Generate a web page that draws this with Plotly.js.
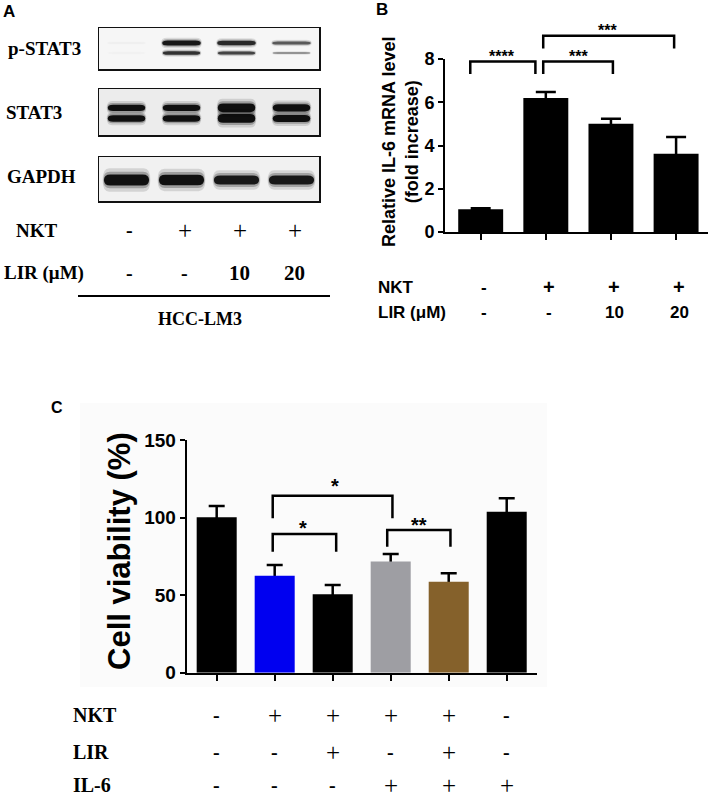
<!DOCTYPE html>
<html>
<head>
<meta charset="utf-8">
<script src="https://cdn.plot.ly/plotly-3.0.1.min.js"></script>
<style>
  body { margin: 0; background: white; }
  #fig { width: 711px; height: 798px; }
</style>
</head>
<body>
<div id="fig"></div>
<script>
// ---- panel A: western blot, band intensity per lane (HCC-LM3)
var lanes = [1, 2, 3, 4];
var pStat3Upper = [0.02, 0.95, 0.85, 0.6];
var pStat3Lower = [0.015, 0.8, 0.7, 0.35];
var stat3Upper = [1.0, 1.0, 1.35, 1.1];
var stat3Lower = [1.0, 1.0, 1.35, 1.1];
var gapdh = [1.15, 1.1, 0.95, 0.95];
var aNkt = ['-', '+', '+', '+'];
var aLir = ['-', '-', '10', '20'];

// ---- panel B: relative IL-6 mRNA level
var bGroups = [0, 1, 2, 3];
var bNames = ['Control', 'NKT', 'NKT + LIR 10', 'NKT + LIR 20'];
var il6Fold = [1.05, 6.2, 5.0, 3.62];
var il6Err = [0.05, 0.27, 0.24, 0.77];
var bNkt = ['-', '+', '+', '+'];
var bLir = ['-', '-', '10', '20'];

// ---- panel C: cell viability
var cGroups = [0, 1, 2, 3, 4, 5];
var viability = [100.2, 62.5, 50.5, 71.6, 58.7, 103.8];
var viabilityErr = [7.3, 6.9, 6.0, 4.9, 5.4, 8.6];
var cColors = ['#000000', '#0000f0', '#000000', '#9e9ea3', '#85612b', '#000000'];
var cNkt = ['-', '+', '+', '+', '+', '-'];
var cLir = ['-', '-', '+', '-', '+', '-'];
var cIl6 = ['-', '-', '-', '+', '+', '+'];

// pixel -> paper helpers
var W = 711, H = 798;
function px(x) { return x / W; }
function py(y) { return 1 - y / H; }

var arial = 'Arial, Liberation Sans, sans-serif';
var times = 'Times New Roman, Liberation Serif, serif';

var blotAxis = {
  domain: [px(99), px(319)], range: [0.5, 4.5],
  showline: true, mirror: true, linecolor: '#111', linewidth: 1.5,
  showticklabels: false, ticks: '', showgrid: false, zeroline: false, fixedrange: true
};
function blotY(top, bottom) {
  return {
    domain: [py(bottom), py(top)], range: [0, 1],
    showline: true, mirror: true, linecolor: '#111', linewidth: 1.5,
    showticklabels: false, ticks: '', showgrid: false, zeroline: false, fixedrange: true
  };
}

var layout = {
  width: W, height: H,
  margin: {l: 0, r: 0, t: 0, b: 0},
  paper_bgcolor: 'white',
  plot_bgcolor: 'rgba(0,0,0,0)',
  showlegend: false,
  barmode: 'overlay',
  font: {family: arial, color: 'black'},
  xaxis: {
    domain: [px(445), px(708)], range: [-0.548, 3.49],
    showline: true, linecolor: 'black', linewidth: 2,
    ticks: 'outside', ticklen: 6, tickwidth: 2, tickcolor: 'black',
    tickvals: bGroups, showticklabels: false,
    showgrid: false, zeroline: false, anchor: 'y'
  },
  yaxis: {
    domain: [py(232), py(59)], range: [0, 8],
    showline: true, linecolor: 'black', linewidth: 2,
    ticks: 'outside', ticklen: 5, tickwidth: 2, tickcolor: 'black',
    tickvals: [0, 2, 4, 6, 8],
    tickfont: {family: arial, size: 18, color: 'black', weight: 'bold'},
    showgrid: false, zeroline: false, anchor: 'x'
  },
  xaxis2: {
    domain: [px(186.7), px(536.7)], range: [-0.517, 5.517],
    showline: true, linecolor: 'black', linewidth: 2,
    ticks: 'outside', ticklen: 6, tickwidth: 2, tickcolor: 'black',
    tickvals: cGroups, showticklabels: false,
    showgrid: false, zeroline: false, anchor: 'y2'
  },
  yaxis2: {
    domain: [py(672.7), py(440)], range: [0, 150],
    showline: true, linecolor: 'black', linewidth: 2,
    ticks: 'outside', ticklen: 5, tickwidth: 2, tickcolor: 'black',
    tickvals: [0, 50, 100, 150],
    tickfont: {family: arial, size: 19, color: 'black', weight: 'bold'},
    showgrid: false, zeroline: false, anchor: 'x2'
  },
  xaxis3: Object.assign({}, blotAxis, {anchor: 'y3'}),
  xaxis4: Object.assign({}, blotAxis, {anchor: 'y4'}),
  xaxis5: Object.assign({}, blotAxis, {anchor: 'y5'}),
  yaxis3: Object.assign(blotY(28, 69), {anchor: 'x3'}),
  yaxis4: Object.assign(blotY(89, 135), {anchor: 'x4'}),
  yaxis5: Object.assign(blotY(157, 201), {anchor: 'x5'}),
  shapes: [],
  annotations: []
};

// value on an axis -> paper y
function toPaper(ax, v) {
  var d = ax.domain, r = ax.range;
  return d[0] + (v - r[0]) / (r[1] - r[0]) * (d[1] - d[0]);
}

function text(x, y, t, size, opts) {
  var a = {
    x: x, y: y, xref: 'paper', yref: 'paper', text: t, showarrow: false,
    font: {family: arial, size: size, color: 'black'},
    xanchor: 'center', yanchor: 'middle', borderpad: 0
  };
  return Object.assign(a, opts || {});
}

// light panel C background
layout.shapes.push({type: 'rect', xref: 'paper', yref: 'paper', layer: 'below',
  x0: px(80), x1: px(547), y0: py(687), y1: py(403),
  fillcolor: '#fbfbfb', line: {width: 0}});

// ---- blot panels
var blots = [
  {ax: 'x3', ay: 'y3', bg: '#f6f6f6', rows: [
    {vals: pStat3Upper, yc: 0.634, h: 0.13, w: 0.7},
    {vals: pStat3Lower, yc: 0.39, h: 0.11, w: 0.68}]},
  {ax: 'x4', ay: 'y4', bg: '#ececec', rows: [
    {vals: stat3Upper, yc: 0.59, h: 0.14, w: 0.68},
    {vals: stat3Lower, yc: 0.36, h: 0.14, w: 0.68}]},
  {ax: 'x5', ay: 'y5', bg: '#f1f1f1', rows: [
    {vals: gapdh, yc: 0.477, h: 0.22, w: 0.82}]}
];

function bandPath(x, yc, w, h) {
  var x0 = x - w / 2, x1 = x + w / 2, y0 = yc - h / 2, y1 = yc + h / 2, r = w * 0.14;
  return 'M' + (x0 + r) + ',' + y0 + ' L' + (x1 - r) + ',' + y0 +
    ' Q' + x1 + ',' + y0 + ' ' + x1 + ',' + yc +
    ' Q' + x1 + ',' + y1 + ' ' + (x1 - r) + ',' + y1 +
    ' L' + (x0 + r) + ',' + y1 +
    ' Q' + x0 + ',' + y1 + ' ' + x0 + ',' + yc +
    ' Q' + x0 + ',' + y0 + ' ' + (x0 + r) + ',' + y0 + ' Z';
}

// soft halo layers then the dense core, to mimic a film band
var bandLayers = [
  {sw: 1.06, sh: 2.1, a: 0.12},
  {sw: 1.03, sh: 1.5, a: 0.25},
  {sw: 1.0, sh: 1.0, a: 0.9}
];
blots.forEach(function(b) {
  layout.shapes.push({type: 'rect', xref: b.ax + ' domain', yref: b.ay + ' domain',
    x0: 0, x1: 1, y0: 0, y1: 1, layer: 'below', fillcolor: b.bg, line: {width: 0}});
  b.rows.forEach(function(row) {
    lanes.forEach(function(lane, i) {
      var v = row.vals[i];
      var op = Math.min(1, v);
      var h = row.h * Math.max(0.4, v);
      bandLayers.forEach(function(l) {
        layout.shapes.push({type: 'path', xref: b.ax, yref: b.ay,
          path: bandPath(lane, row.yc, row.w * l.sw, h * l.sh),
          fillcolor: 'rgba(0,0,0,' + (op * l.a).toFixed(3) + ')', line: {width: 0}});
      });
    });
  });
});

// panel A labels
function serifLabel(x, y, t, size, anchor) {
  return text(px(x), py(y), '<b>' + t + '</b>', size,
    {font: {family: times, size: size, color: 'black'}, xanchor: anchor || 'left'});
}
layout.annotations.push(text(px(9), py(11), '<b>A</b>', 17));
layout.annotations.push(serifLabel(7, 48, 'p-STAT3', 19));
layout.annotations.push(serifLabel(5, 113, 'STAT3', 19));
layout.annotations.push(serifLabel(6, 177, 'GAPDH', 19));
layout.annotations.push(serifLabel(15, 230, 'NKT', 19));
layout.annotations.push(serifLabel(3, 273, 'LIR (μM)', 19));
layout.annotations.push(serifLabel(200, 319, 'HCC-LM3', 18, 'center'));
layout.shapes.push({type: 'line', xref: 'paper', yref: 'paper',
  x0: px(78), x1: px(330), y0: py(296), y1: py(296), line: {color: 'black', width: 2}});

function signCell(xref, x, y, t) {
  var f = t === '+' ? {family: times, size: 25, color: 'black'}
        : t === '-' ? {family: times, size: 20, color: 'black', weight: 'bold'}
        : {family: times, size: 21, color: 'black', weight: 'bold'};
  return {x: x, y: y, xref: xref, yref: 'paper', text: t, showarrow: false,
    font: f, xanchor: 'center', yanchor: 'middle', borderpad: 0};
}
lanes.forEach(function(lane, i) {
  layout.annotations.push(signCell('x5', lane + 0.06, py(230), aNkt[i]));
  layout.annotations.push(signCell('x5', lane + 0.06, py(273), aLir[i]));
});

// ---- panel B labels and brackets
layout.annotations.push(text(px(382), py(10), '<b>B</b>', 17));
layout.annotations.push(text(px(400), py(142), '<b>Relative IL-6 mRNA level<br>(fold increase)</b>', 18, {textangle: -90}));
layout.annotations.push(text(px(377), py(287), '<b>NKT</b>', 17, {xanchor: 'left'}));
layout.annotations.push(text(px(377), py(313), '<b>LIR (μM)</b>', 17, {xanchor: 'left'}));
bGroups.forEach(function(g, i) {
  var f = {family: arial, size: bNkt[i] === '+' ? 20 : 17, color: 'black', weight: 'bold'};
  layout.annotations.push({x: g + 0.05, y: py(287), xref: 'x', yref: 'paper', text: bNkt[i],
    showarrow: false, font: f, xanchor: 'center', yanchor: 'middle', borderpad: 0});
  layout.annotations.push({x: g + 0.05, y: py(313), xref: 'x', yref: 'paper', text: bLir[i],
    showarrow: false, font: {family: arial, size: 17, color: 'black', weight: 'bold'},
    xanchor: 'center', yanchor: 'middle', borderpad: 0});
});

function bracket(xref, ay, x0, x1, top, leg0, leg1) {
  var yt = toPaper(ay, top), y0 = toPaper(ay, leg0), y1 = toPaper(ay, leg1);
  return {type: 'path', xref: xref, yref: 'paper',
    path: 'M' + x0 + ',' + y0 + ' L' + x0 + ',' + yt + ' L' + x1 + ',' + yt + ' L' + x1 + ',' + y1,
    line: {color: 'black', width: 2.5}};
}
function stars(xref, ay, x, v, t, size) {
  return {x: x, y: toPaper(ay, v), xref: xref, yref: 'paper', text: t, showarrow: false,
    font: {family: arial, size: size, color: 'black', weight: 'bold'},
    xanchor: 'center', yanchor: 'middle'};
}
var bBrackets = [
  {x0: -0.16, x1: 0.84, top: 7.88, leg: 7.31, label: '****', lx: 0.33, ly: 8.1},
  {x0: 0.96, x1: 2.03, top: 7.88, leg: 7.31, label: '***', lx: 1.5, ly: 8.1},
  {x0: 0.96, x1: 2.97, top: 9.08, leg: 8.48, label: '***', lx: 1.95, ly: 9.3}
];
bBrackets.forEach(function(s) {
  layout.shapes.push(bracket('x', layout.yaxis, s.x0, s.x1, s.top, s.leg, s.leg));
  layout.annotations.push(stars('x', layout.yaxis, s.lx, s.ly, s.label, 16));
});

// ---- panel C labels and brackets
layout.annotations.push(text(px(57), py(407), '<b>C</b>', 16));
layout.annotations.push(text(px(119), py(551), '<b>Cell viability (%)</b>', 31, {textangle: -90}));
[['NKT', 715, cNkt], ['LIR', 752, cLir], ['IL-6', 785, cIl6]].forEach(function(r) {
  layout.annotations.push(text(px(72), py(r[1]), '<b>' + r[0] + '</b>', 20,
    {font: {family: times, size: 20, color: 'black'}, xanchor: 'left'}));
  cGroups.forEach(function(g, i) {
    layout.annotations.push(signCell('x2', g, py(r[1]), r[2][i]));
  });
});
var cBrackets = [
  {x0: 0.966, x1: 3.03, top: 114.1, leg: 99.5, label: '*', lx: 2.04, ly: 120.6},
  {x0: 0.966, x1: 2.06, top: 89.4, leg: 78, label: '*', lx: 1.49, ly: 93.3},
  {x0: 2.94, x1: 4.03, top: 92, leg: 81.2, label: '**', lx: 3.49, ly: 95.4}
];
cBrackets.forEach(function(s) {
  layout.shapes.push(bracket('x2', layout.yaxis2, s.x0, s.x1, s.top, s.leg, s.leg));
  layout.annotations.push(stars('x2', layout.yaxis2, s.lx, s.ly, s.label, 20));
});

// ---- traces: error bars sit under the bars so only the upper half shows
var data = [
  {type: 'bar', x: bGroups, y: il6Fold, width: 0.69, xaxis: 'x', yaxis: 'y',
    marker: {color: 'rgba(0,0,0,0)'}, hoverinfo: 'skip',
    error_y: {type: 'data', array: il6Err, color: 'black', thickness: 2.5, width: 10}},
  {type: 'bar', x: bGroups, y: il6Fold, width: 0.69, xaxis: 'x', yaxis: 'y',
    hovertext: bNames, marker: {color: 'black'}},
  {type: 'bar', x: cGroups, y: viability, width: 0.69, xaxis: 'x2', yaxis: 'y2',
    marker: {color: 'rgba(0,0,0,0)'}, hoverinfo: 'skip',
    error_y: {type: 'data', array: viabilityErr, color: 'black', thickness: 2.5, width: 8}},
  {type: 'bar', x: cGroups, y: viability, width: 0.69, xaxis: 'x2', yaxis: 'y2',
    marker: {color: cColors}},
  // empty traces so the blot subplots exist
  {type: 'scatter', x: [], y: [], xaxis: 'x3', yaxis: 'y3'},
  {type: 'scatter', x: [], y: [], xaxis: 'x4', yaxis: 'y4'},
  {type: 'scatter', x: [], y: [], xaxis: 'x5', yaxis: 'y5'}
];

Plotly.newPlot('fig', data, layout, {staticPlot: true});
</script>
</body>
</html>
